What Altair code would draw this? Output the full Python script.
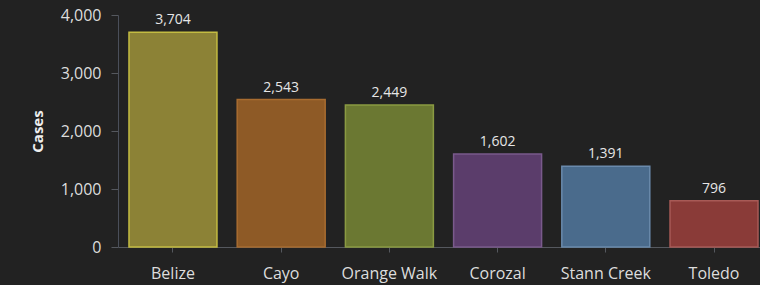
import altair as alt
import pandas as pd
from jinja2 import Template

districts = ["Belize", "Cayo", "Orange Walk", "Corozal", "Stann Creek", "Toledo"]
cases = [3704, 2543, 2449, 1602, 1391, 796]
fills = ["#8c8236", "#8e5a26", "#6b7832", "#5b3d6b", "#4a6b8c", "#8a3b38"]
strokes = ["#c4bc42", "#a86c30", "#8a9a42", "#7a5a8c", "#6a8aac", "#a85a56"]
y_ticks = [0, 1000, 2000, 3000, 4000]

df = pd.DataFrame({"district": districts, "cases": cases})

BG = "#222222"
font = "Open Sans"
x_enc = alt.X(
    "district:N",
    sort=districts,
    title=None,
    scale=alt.Scale(paddingInner=0.187, paddingOuter=0.06, align=0.846),
    axis=alt.Axis(labelAngle=0, labelFontSize=16, labelColor="#dddddd",
                  labelFont=font, domainColor="#55585e", tickColor="#55585e",
                  tickSize=5, labelPadding=13),
)
y_enc = alt.Y(
    "cases:Q",
    title="Cases",
    scale=alt.Scale(domain=[0, 4000], nice=False),
    axis=alt.Axis(values=y_ticks, format=",.0f", labelFontSize=16, labelColor="#dddddd",
                  labelFont=font, titleFont=font, titleFontSize=15, titleColor="#eeeeee",
                  titleFontWeight="bold", domainColor="#4a4f5a", tickColor="#55585e",
                  tickSize=7, labelPadding=10, titlePadding=15, grid=False),
)

bars = alt.Chart(df).mark_bar(strokeWidth=1.5).encode(
    x=x_enc,
    y=y_enc,
    color=alt.Color("district:N", scale=alt.Scale(domain=districts, range=fills), legend=None),
    stroke=alt.Stroke("district:N", scale=alt.Scale(domain=districts, range=strokes), legend=None),
)

labels = alt.Chart(df).mark_text(dy=-12, fontSize=14, font=font, color="#e6e6e6").encode(
    x=alt.X("district:N", sort=districts),
    y="cases:Q",
    text=alt.Text("cases:Q", format=",.0f"),
)

chart = (
    alt.layer(bars, labels)
    .resolve_scale(color="independent", stroke="independent")
    .properties(
        width=642,
        height=232,
        autosize=alt.AutoSizeParams(type="none"),
        padding={"left": 118, "top": 15, "right": 0, "bottom": 37},
        background=BG,
    )
    .configure_view(stroke=None)
)

PAGE = Template("""<!DOCTYPE html>
<html>
<head>
  <style>
    html, body { background: """ + BG + """; margin: 0; padding: 0; overflow: hidden; }
    #{{ output_div }}.vega-embed { width: 100%; display: flex; }
  </style>
  <script type="text/javascript" src="{{ base_url }}/vega@{{ vega_version }}"></script>
  <script type="text/javascript" src="{{ base_url }}/vega-lite@{{ vegalite_version }}"></script>
  <script type="text/javascript" src="{{ base_url }}/vega-embed@{{ vegaembed_version }}"></script>
</head>
<body>
  <div id="{{ output_div }}"></div>
  <script type="text/javascript">
    var spec = {{ spec }};
    var embedOpt = {{ embed_options }};
    vegaEmbed("#{{ output_div }}", spec, embedOpt).catch(function (err) {
      document.getElementById("{{ output_div }}").innerHTML = String(err);
    });
  </script>
</body>
</html>
""")

chart.save("out.html", embed_options={"renderer": "svg", "actions": False}, template=PAGE)
